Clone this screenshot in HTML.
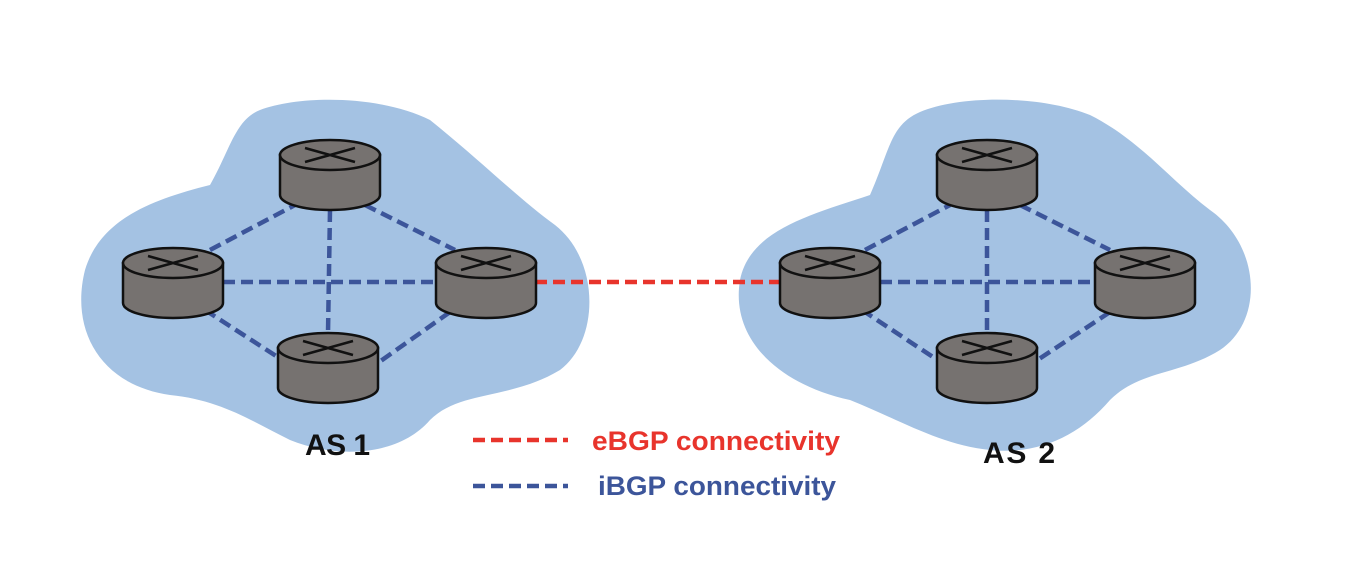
<!DOCTYPE html>
<html><head><style>body{margin:0;background:#fff}svg{display:block}</style></head><body>
<svg width="1356" height="564" viewBox="0 0 1356 564" xmlns="http://www.w3.org/2000/svg">
<defs>
<g id="r">
<path d="M-50,0 L-50,40 A50,15 0 0 0 50,40 L50,0 Z" fill="#767270" stroke="#111" stroke-width="2.5"/>
<ellipse cx="0" cy="0" rx="50" ry="15" fill="#767270" stroke="#111" stroke-width="2.5"/>
<path d="M-25,-7 L25,7 M-25,7 L25,-7" stroke="#111" stroke-width="2.5"/>
</g>
</defs>
<path d="M260,110 C300,95 380,95 430,120 C480,160 520,200 555,225 C600,260 600,340 560,370 C510,400 460,390 430,420 C400,455 340,460 290,440 C250,420 220,400 170,395 C100,385 70,330 85,270 C100,220 150,200 210,185 C230,150 235,120 260,110 Z" fill="#a4c2e3"/>
<path d="M920,112 C960,95 1040,95 1090,115 C1140,140 1170,180 1210,210 C1260,245 1265,320 1220,350 C1180,375 1140,370 1110,400 C1080,435 1040,455 990,450 C940,445 900,420 850,400 C780,385 730,340 740,280 C750,230 810,215 870,195 C890,150 890,125 920,112 Z" fill="#a4c2e3"/>
<g stroke="#3c559a" stroke-width="4.5" stroke-dasharray="12,6" fill="none">
<line x1="210" y1="250" x2="295" y2="205"/><line x1="365" y1="205" x2="455" y2="250"/>
<line x1="330" y1="210" x2="328" y2="333"/><line x1="223" y1="282" x2="436" y2="282"/>
<line x1="205" y1="310" x2="290" y2="365"/><line x1="450" y1="312" x2="375" y2="365"/>
<line x1="865" y1="250" x2="950" y2="205"/><line x1="1020" y1="205" x2="1110" y2="250"/>
<line x1="987" y1="210" x2="987" y2="333"/><line x1="880" y1="282" x2="1095" y2="282"/>
<line x1="862" y1="310" x2="945" y2="365"/><line x1="1110" y1="312" x2="1030" y2="365"/>
</g>
<line x1="535" y1="282" x2="780" y2="282" stroke="#e8342c" stroke-width="4.5" stroke-dasharray="12,6"/>
<use href="#r" x="330" y="155"/><use href="#r" x="173" y="263"/><use href="#r" x="486" y="263"/><use href="#r" x="328" y="348"/>
<use href="#r" x="987" y="155"/><use href="#r" x="830" y="263"/><use href="#r" x="1145" y="263"/><use href="#r" x="987" y="348"/>
<g font-family="Liberation Sans, sans-serif" font-weight="bold">
<text x="305" y="455" font-size="30" fill="#111" textLength="65">AS 1</text>
<text x="983" y="463" font-size="30" fill="#111" textLength="72">AS 2</text>
<line x1="473" y1="440" x2="568" y2="440" stroke="#e8342c" stroke-width="4.5" stroke-dasharray="12,6"/>
<line x1="473" y1="486" x2="568" y2="486" stroke="#3c559a" stroke-width="4.5" stroke-dasharray="12,6"/>
<text x="592" y="450" font-size="27" fill="#e8342c" textLength="248" lengthAdjust="spacingAndGlyphs">eBGP connectivity</text>
<text x="598" y="495" font-size="27" fill="#3c559a" textLength="238" lengthAdjust="spacingAndGlyphs">iBGP connectivity</text>
</g>
</svg>
</body></html>
